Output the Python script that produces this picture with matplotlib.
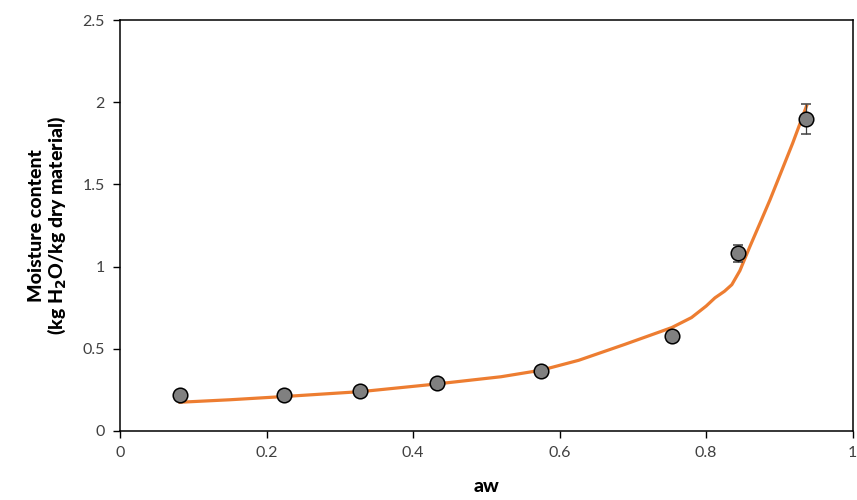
import matplotlib.pyplot as plt

# measured points
aw = [0.082, 0.2245, 0.328, 0.432, 0.575, 0.753, 0.8435, 0.936]
moisture = [0.222, 0.220, 0.243, 0.292, 0.365, 0.578, 1.081, 1.897]
err = [0.0, 0.0, 0.0, 0.0, 0.0, 0.0, 0.05, 0.092]

# model curve
fit_aw = [0.082, 0.15, 0.225, 0.33, 0.43, 0.52, 0.575, 0.626, 0.689, 0.753,
          0.78, 0.80, 0.812, 0.825, 0.835, 0.846, 0.859, 0.875, 0.887, 0.898,
          0.918, 0.937]
fit_m = [0.175, 0.19, 0.21, 0.24, 0.285, 0.33, 0.37, 0.43, 0.527, 0.629,
         0.69, 0.76, 0.81, 0.85, 0.89, 0.975, 1.115, 1.28, 1.405, 1.527,
         1.75, 1.977]

plt.rcParams['font.family'] = ['Lato', 'DejaVu Sans']

fig = plt.figure(figsize=(8.57, 5), dpi=100)
ax = fig.add_axes([0.14, 0.138, 0.855, 0.822])

ax.plot(fit_aw, fit_m, color='#ED7D31', lw=2.3, zorder=2)
ax.errorbar(aw, moisture, yerr=err, fmt='o', color='#808080', ms=10.5,
            mec='black', mew=1.1, ecolor='#404040', elinewidth=0.9,
            capsize=3.5, capthick=0.9, zorder=3)

ax.set_xlim(0, 1)
ax.set_ylim(0, 2.5)
ax.set_xticks([0, 0.2, 0.4, 0.6, 0.8, 1])
ax.set_xticklabels(['0', '0.2', '0.4', '0.6', '0.8', '1'])
ax.set_yticks([0, 0.5, 1, 1.5, 2, 2.5])
ax.set_yticklabels(['0', '0.5', '1', '1.5', '2', '2.5'])
ax.tick_params(direction='out', length=5, width=1, labelsize=11.5,
               labelcolor='#404040', pad=6)

for s in ax.spines.values():
    s.set_linewidth(1.1)
    s.set_color('black')

ax.set_xlabel('aw', fontsize=14, fontweight='black', labelpad=13)
ax.set_ylabel('Moisture content\n(kg H$_\\mathbf{2}$O/kg dry material)',
              fontsize=14, fontweight='black', labelpad=10, linespacing=1.05)

fig.savefig('out.png', dpi=100)
